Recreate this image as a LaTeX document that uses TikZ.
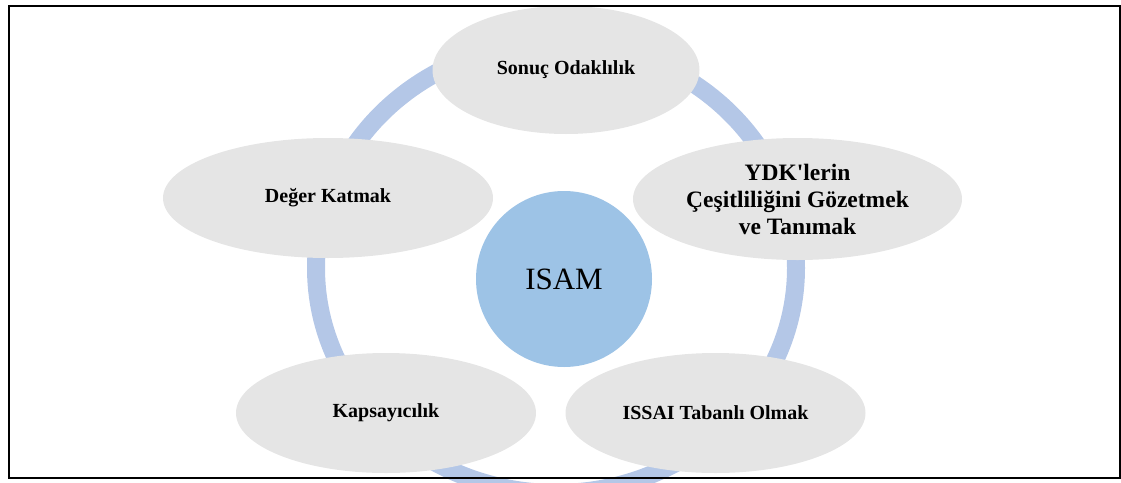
\documentclass[tikz,border=0pt]{standalone}
\usepackage{fontspec}
\newfontfamily\diafont{Liberation Serif}
\usetikzlibrary{shapes.geometric}
\definecolor{petalgray}{HTML}{E5E5E5}
\definecolor{ringblue}{HTML}{B4C7E7}
\definecolor{hubblue}{HTML}{9DC3E6}
\begin{document}
\begin{tikzpicture}[x=1pt,y=-1pt,
  petal/.style={ellipse, fill=petalgray, inner sep=0pt, text=black,
    font=\diafont\bfseries\fontsize{20}{23}\selectfont},
  bigpetal/.style={petal, align=center,
    font=\diafont\bfseries\fontsize{23.5}{27}\selectfont},
  hub/.style={circle, fill=hubblue, minimum size=176pt, inner sep=0pt,
    font=\diafont\fontsize{31}{36}\selectfont},
  ring/.style={draw=ringblue, line width=18pt},
  frame/.style={draw=black, line width=2pt}]
\useasboundingbox (0,0) rectangle (1121,482);
\clip (0,0) rectangle (1121,482);

% connecting ring behind the petals
\draw[ring] (556,268) ellipse [x radius=240pt, y radius=225pt];

% outer petals
\node[petal, minimum width=267pt, minimum height=128pt] (top) at (566,70) {Sonuç Odaklılık};
\node[bigpetal, minimum width=329pt, minimum height=122pt] (right) at (797.5,199) {YDK'lerin\\Çeşitliliğini Gözetmek\\ve Tanımak};
\node[petal, minimum width=300pt, minimum height=120pt] (lowright) at (715.5,413) {ISSAI Tabanlı Olmak};
\node[petal, minimum width=300pt, minimum height=120pt] (lowleft) at (386,413) {Kapsayıcılık};
\node[petal, minimum width=330pt, minimum height=120pt] (left) at (328,198) {Değer Katmak};

% centre
\node[hub] (hub) at (564,279) {ISAM};

% surrounding frame
\draw[frame] (8.5,6) rectangle (1119.5,478);
\end{tikzpicture}
\end{document}
